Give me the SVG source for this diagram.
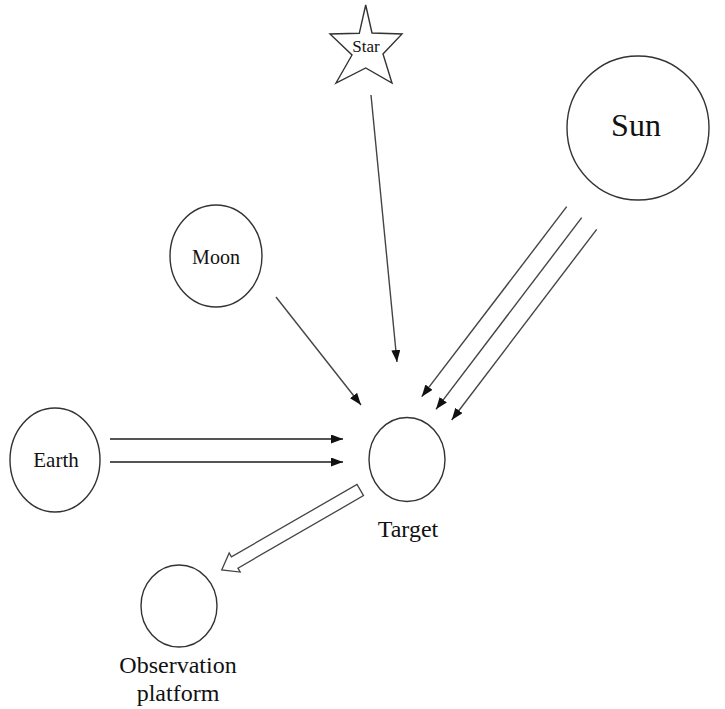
<svg xmlns="http://www.w3.org/2000/svg" width="725" height="709" viewBox="0 0 725 709">
<defs>
<style>
.body{fill:#fff;stroke:#333;stroke-width:1.4}
.lbl{font-family:"Liberation Serif","Times New Roman",serif;fill:#111;text-anchor:middle}
.ray{stroke:#444;stroke-width:1.4;fill:none;marker-end:url(#ah)}
.thick{stroke:#555;stroke-width:2.2;fill:none;marker-end:url(#ah)}
</style>
<marker id="ah" markerUnits="userSpaceOnUse" markerWidth="13" markerHeight="10" refX="12" refY="4.5" orient="auto">
<path d="M0,0 L12,4.5 L0,9 z" fill="#111"/>
</marker>
</defs>
<rect width="725" height="709" fill="#fff"/>
<g id="star">
<polygon class="body" points="365.7,5 372,33 402,34 383,54 392,83 365.7,68 336,83 352,55 330,34 359.3,33.3"/>
<text class="lbl" x="366" y="52" font-size="17">Star</text>
</g>
<g id="sun">
<ellipse class="body" cx="638" cy="128" rx="71" ry="72"/>
<text class="lbl" x="636" y="136" font-size="32">Sun</text>
</g>
<g id="moon">
<ellipse class="body" cx="216" cy="256" rx="46" ry="51"/>
<text class="lbl" x="216" y="264" font-size="20">Moon</text>
</g>
<g id="earth">
<ellipse class="body" cx="55" cy="460" rx="45" ry="52"/>
<text class="lbl" x="56" y="467" font-size="21">Earth</text>
</g>
<g id="target">
<ellipse class="body" cx="407" cy="459.5" rx="38" ry="42"/>
<text class="lbl" x="408" y="537" font-size="24">Target</text>
</g>
<g id="platform">
<ellipse class="body" cx="179" cy="606" rx="38" ry="41"/>
<text class="lbl" x="178" y="673" font-size="24">Observation</text>
<text class="lbl" x="178" y="701" font-size="24">platform</text>
</g>
<g id="connectors">
<line class="ray" x1="371" y1="95" x2="397" y2="362"/>
<line class="ray" x1="276" y1="297" x2="361" y2="405"/>
<line class="ray" x1="566.7" y1="206.7" x2="421.7" y2="396.7"/>
<line class="ray" x1="581.7" y1="217.7" x2="436" y2="409.3"/>
<line class="ray" x1="596.7" y1="229.3" x2="451.7" y2="420"/>
<line class="thick" x1="110" y1="439" x2="343" y2="439"/>
<line class="thick" x1="110" y1="462" x2="343" y2="462"/>
<polygon transform="translate(221.7,570) rotate(-30)" points="0,0 15,-11 15,-6.5 160,-6.5 160,6.5 15,6.5 15,11" fill="#fff" stroke="#444" stroke-width="1.3"/>
</g>
</svg>
